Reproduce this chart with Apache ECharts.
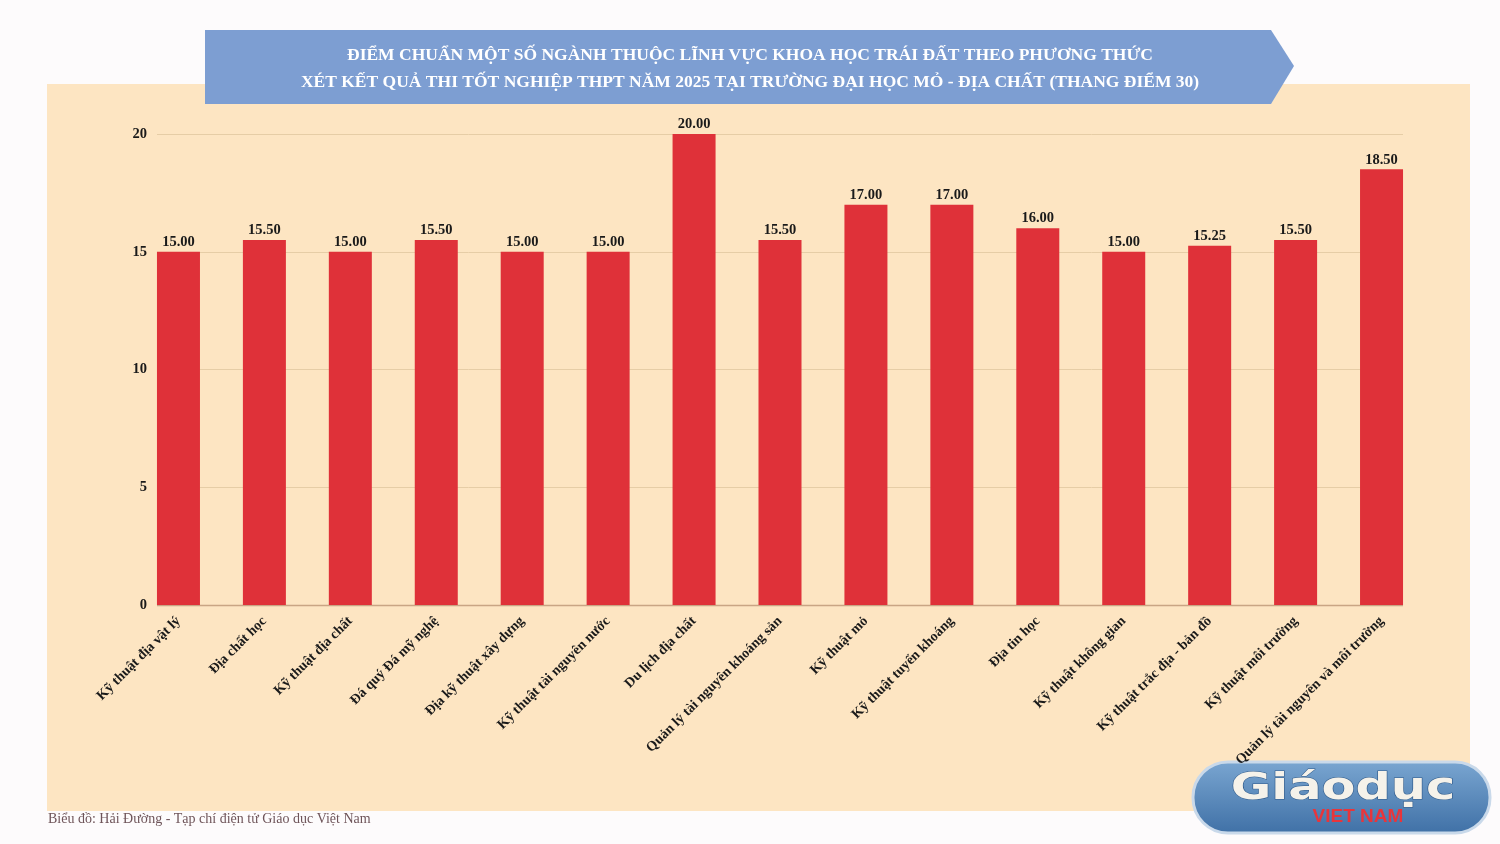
<!DOCTYPE html>
<html><head><meta charset="utf-8">
<script src="https://cdn.jsdelivr.net/npm/echarts@6/dist/echarts.min.js"></script>
<style>html,body{margin:0;padding:0;background:#fdfbfc}#c{width:1500px;height:844px}</style>
</head><body><div id="c"></div>
<script>
const categories = [
  'Kỹ thuật địa vật lý','Địa chất học','Kỹ thuật địa chất','Đá quý Đá mỹ nghệ',
  'Địa kỹ thuật xây dựng','Kỹ thuật tài nguyên nước','Du lịch địa chất',
  'Quản lý tài nguyên khoáng sản','Kỹ thuật mỏ','Kỹ thuật tuyển khoáng',
  'Địa tin học','Kỹ thuật không gian','Kỹ thuật trắc địa - bản đồ',
  'Kỹ thuật môi trường','Quản lý tài nguyên và môi trường'
];
const scores = [15.00,15.50,15.00,15.50,15.00,15.00,20.00,15.50,17.00,17.00,16.00,15.00,15.25,15.50,18.50];
const yTicks = { min: 0, max: 20, interval: 5 };
const titleLines = [
  'ĐIỂM CHUẨN MỘT SỐ NGÀNH THUỘC LĨNH VỰC KHOA HỌC TRÁI ĐẤT THEO PHƯƠNG THỨC',
  'XÉT KẾT QUẢ THI TỐT NGHIỆP THPT NĂM 2025 TẠI TRƯỜNG ĐẠI HỌC MỎ - ĐỊA CHẤT (THANG ĐIỂM 30)'
];
const sourceText = 'Biểu đồ: Hải Đường - Tạp chí điện tử Giáo dục Việt Nam';

const SERIF = '"Liberation Serif", "DejaVu Serif", serif';
const chart = echarts.init(document.getElementById('c'));
chart.setOption({
  backgroundColor: '#fdfbfc',
  animation: false,
  title: {
    text: titleLines.join('\n'),
    left: 'center', top: 37,
    textStyle: { color: '#ffffff', fontFamily: SERIF, fontWeight: 'bold', fontSize: 17.5, lineHeight: 27 }
  },
  grid: [
    { left: 157, right: 97, top: 134, bottom: 239 },
    { left: 135.5, right: 75.5, top: 134, bottom: 239 }
  ],
  xAxis: [
    { gridIndex: 0, type: 'category', data: categories, show: false },
    { gridIndex: 1, type: 'category', data: categories,
      axisLine: { show: false }, axisTick: { show: false },
      axisLabel: { rotate: 45, margin: 14, interval: 0, color: '#1a1a1a', fontFamily: SERIF, fontWeight: 'bold', fontSize: 14 } }
  ],
  yAxis: [
    { gridIndex: 0, type: 'value', min: yTicks.min, max: yTicks.max, interval: yTicks.interval,
      axisLine: { show: false }, axisTick: { show: false },
      axisLabel: { margin: 10, color: '#1a1a1a', fontFamily: SERIF, fontWeight: 'bold', fontSize: 14.5 },
      splitLine: { lineStyle: { color: '#e6cda6', width: 1 } } },
    { gridIndex: 1, type: 'value', min: yTicks.min, max: yTicks.max, interval: yTicks.interval, show: false, splitLine: { show: false } }
  ],
  series: [{
    type: 'bar', xAxisIndex: 1, yAxisIndex: 1, data: scores, barWidth: 43,
    itemStyle: { color: '#df3139' },
    label: { show: true, position: 'top', distance: 2, formatter: p => p.value.toFixed(2),
      color: '#1a1a1a', fontFamily: SERIF, fontWeight: 'bold', fontSize: 14.5 },
    z: 3
  }],
  graphic: [
    { type: 'rect', z: -100, shape: { x: 47, y: 84, width: 1423, height: 727 }, style: { fill: '#fde5c2' } },
    { type: 'line', z: 1, shape: { x1: 157, y1: 605.5, x2: 1403, y2: 605.5 }, style: { stroke: '#c9a584', lineWidth: 1.5 } },
    { type: 'polygon', z: -50, shape: { points: [[205,30],[1271,30],[1294,66],[1271,104],[205,104]] }, style: { fill: '#7d9ed2' } },
    { type: 'text', x: 48, y: 812, style: { text: sourceText, fill: '#6e5459', font: '14px ' + SERIF } },
    { type: 'group', x: 1193, y: 762, children: [
      { type: 'rect', shape: { x: 0, y: 0, width: 297, height: 71, r: 35 },
        style: { fill: { type: 'linear', x: 0, y: 0, x2: 0, y2: 1, colorStops: [{offset:0,color:'#7aa6d1'},{offset:1,color:'#3f70a6'}] },
                 stroke: '#c9d9ea', lineWidth: 3 } },
      { type: 'text', x: 150, y: 8, scaleX: 1.3, style: { text: 'Giáodục', fill: '#f5f2ea', font: 'bold 38px "DejaVu Sans", sans-serif', textAlign: 'center',
          stroke: '#2f5a8a', lineWidth: 1 } },
      { type: 'text', x: 165, y: 45, style: { text: 'VIET NAM', fill: '#e8353b', font: 'bold 19px "Liberation Sans", sans-serif', textAlign: 'center' } }
    ]}
  ]
});
</script></body></html>
